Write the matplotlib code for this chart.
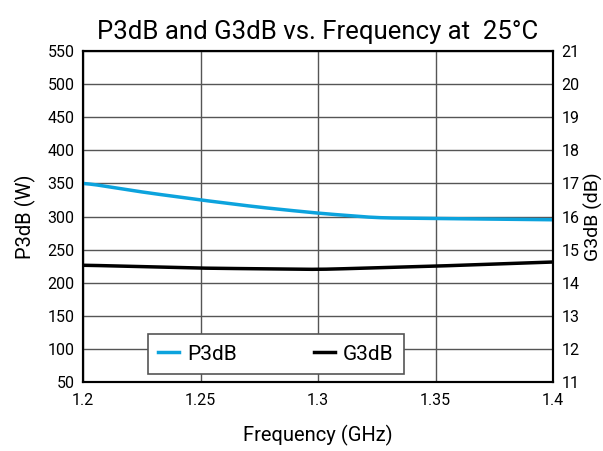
import matplotlib
matplotlib.use("Agg")
import matplotlib.pyplot as plt
import numpy as np

freq = [1.2, 1.225, 1.25, 1.275, 1.3, 1.325, 1.35, 1.375, 1.4]
p3db = [351, 337, 325, 314, 305, 298, 297, 296, 295]
g3db_freq = [1.2, 1.25, 1.3, 1.35, 1.4]
g3db = [14.53, 14.44, 14.40, 14.50, 14.63]

x_ticks = [1.2, 1.25, 1.3, 1.35, 1.4]
x_ticklabels = ["1.2", "1.25", "1.3", "1.35", "1.4"]
yl_ticks = list(range(50, 551, 50))
yr_ticks = list(range(11, 22))

plt.rcParams['font.family'] = ['Roboto', 'DejaVu Sans']

fig = plt.figure(figsize=(6.03, 4.51), dpi=100)
ax = fig.add_axes([83/603, 1-382/451, 470/603, 331/451])
ax2 = ax.twinx()

xs = np.linspace(1.2, 1.4, 200)
ker = np.ones(15)/15
pp = np.interp(xs, freq, p3db)
pp_s = np.convolve(np.pad(pp, 7, mode='edge'), ker, mode='valid')
gg = np.interp(xs, g3db_freq, g3db)
gg_s = np.convolve(np.pad(gg, 7, mode='edge'), ker, mode='valid')

l1, = ax.plot(xs, pp_s, color='#0ca3dd', lw=2.5, label='P3dB', zorder=3)
l2, = ax2.plot(xs, gg_s, color='black', lw=2.5, label='G3dB', zorder=3)

ax.set_xlim(1.2, 1.4)
ax.set_ylim(50, 550)
ax2.set_ylim(11, 21)
ax.set_xticks(x_ticks)
ax.set_xticklabels(x_ticklabels)
ax.set_yticks(yl_ticks)
ax2.set_yticks(yr_ticks)
ax.grid(True, color='#555555', lw=1)
ax.set_axisbelow(True)
for a in (ax, ax2):
    a.tick_params(length=0, labelsize=11.5, pad=6)
    for s in a.spines.values():
        s.set_linewidth(1.5)
        s.set_color('black')
ax.tick_params(axis='x', pad=8)

ax.set_xlabel('Frequency (GHz)', fontsize=14.5, labelpad=12)
ax.set_ylabel('P3dB (W)', fontsize=14.5, labelpad=8)
ax2.set_ylabel('G3dB (dB)', fontsize=14, labelpad=3)
ax.set_title('P3dB and G3dB vs. Frequency at  25°C', fontsize=18.5, pad=9)

leg = ax2.legend(handles=[l1, l2], ncol=2, loc='lower left',
                 bbox_to_anchor=(0.138, 0.024, 0.545, 0.145), mode='expand',
                 fontsize=15, frameon=True, fancybox=False, handlelength=1.0,
                 handletextpad=0.4, columnspacing=2.5, borderaxespad=0, borderpad=0.5)
leg.get_frame().set_edgecolor('#555555')
leg.get_frame().set_linewidth(1.2)
leg.get_frame().set_alpha(1)

fig.savefig('out.png', dpi=100)
